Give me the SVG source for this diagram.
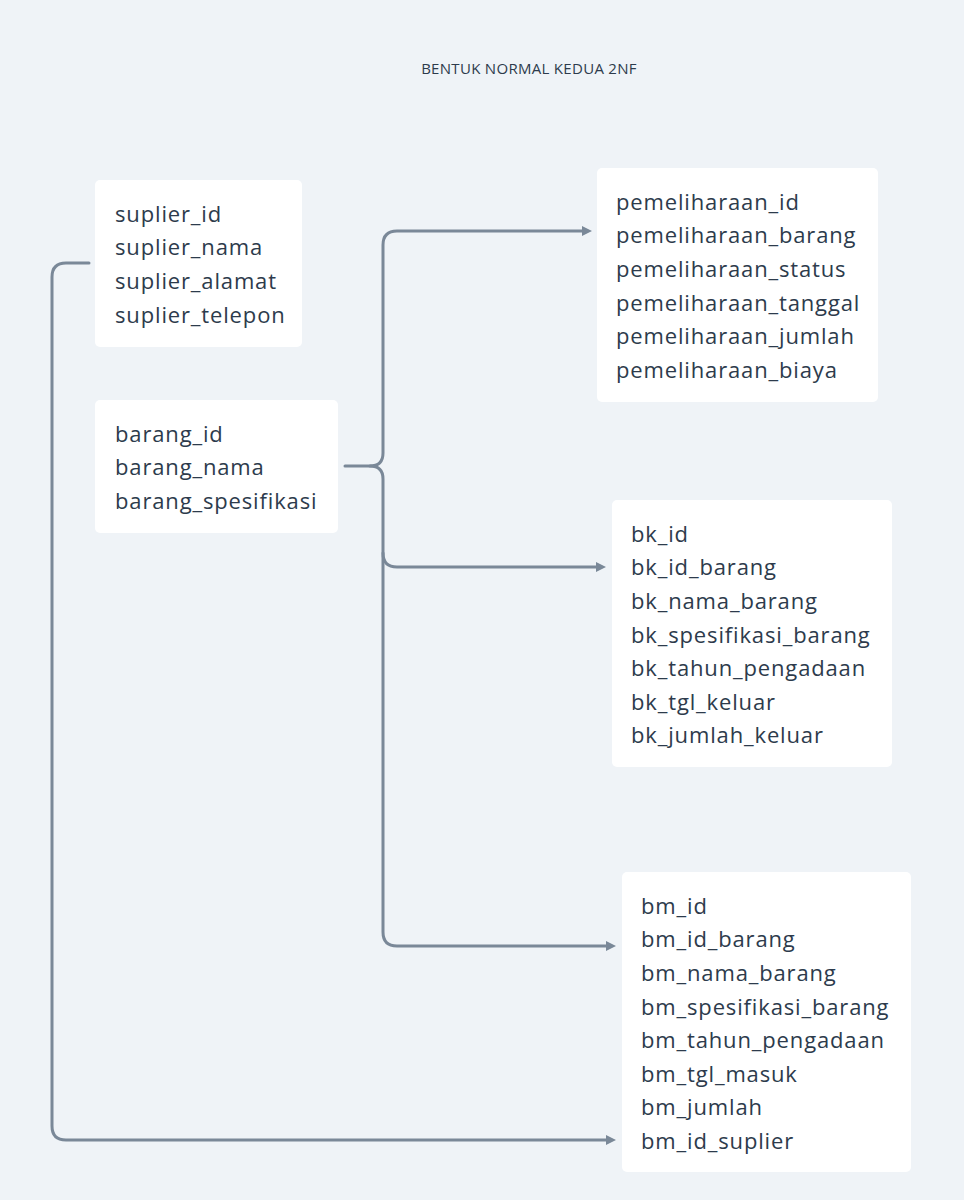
<svg xmlns="http://www.w3.org/2000/svg" width="964" height="1200" viewBox="0 0 964 1200">
<style>
.bg{fill:#eff3f7}
.box{fill:#ffffff}
.t{font-family:"Open Sans","Liberation Sans",sans-serif;font-size:22px;letter-spacing:0.85px;fill:#2d3b4c}
.title{font-family:"Open Sans","Liberation Sans",sans-serif;font-size:15px;letter-spacing:0.3px;fill:#2d3b4c}
.c{fill:none;stroke:#7a8898;stroke-width:3;stroke-linecap:round;stroke-linejoin:round}
</style>
<defs>
<marker id="ah" viewBox="0 0 10 10" refX="2" refY="5" markerWidth="10" markerHeight="10" markerUnits="userSpaceOnUse" orient="auto">
<path d="M0,0 L10,5 L0,10 Z" fill="#7a8898"/>
</marker>
</defs>
<rect class="bg" width="964" height="1200"/>
<text class="title" x="529" y="74" text-anchor="middle">BENTUK NORMAL KEDUA 2NF</text>
<g id="connectors">
<path class="c" d="M345,466 H370 Q383,466 383,453 V245 Q383,231 397,231 H584" marker-end="url(#ah)"/>
<path class="c" d="M370,466 Q383,466 383,479 V553 Q383,567 397,567 H598" marker-end="url(#ah)"/>
<path class="c" d="M383,553 V932 Q383,946 397,946 H608" marker-end="url(#ah)"/>
<path class="c" d="M89,263 H66 Q52,263 52,277 V1126 Q52,1140 66,1140 H608" marker-end="url(#ah)"/>
</g>
<g id="suplier">
<rect class="box" x="95" y="180" width="207" height="167" rx="5"/>
<text class="t" x="115" y="222">suplier_id</text>
<text class="t" x="115" y="255">suplier_nama</text>
<text class="t" x="115" y="289">suplier_alamat</text>
<text class="t" x="115" y="323">suplier_telepon</text>
</g>
<g id="barang">
<rect class="box" x="95" y="400" width="243" height="133" rx="5"/>
<text class="t" x="115" y="442">barang_id</text>
<text class="t" x="115" y="475">barang_nama</text>
<text class="t" x="115" y="509">barang_spesifikasi</text>
</g>
<g id="pemeliharaan">
<rect class="box" x="597" y="168" width="281" height="234" rx="5"/>
<text class="t" x="616" y="210">pemeliharaan_id</text>
<text class="t" x="616" y="243">pemeliharaan_barang</text>
<text class="t" x="616" y="277">pemeliharaan_status</text>
<text class="t" x="616" y="311">pemeliharaan_tanggal</text>
<text class="t" x="616" y="344">pemeliharaan_jumlah</text>
<text class="t" x="616" y="378">pemeliharaan_biaya</text>
</g>
<g id="barang_keluar">
<rect class="box" x="612" y="500" width="280" height="267" rx="5"/>
<text class="t" x="631" y="542">bk_id</text>
<text class="t" x="631" y="575">bk_id_barang</text>
<text class="t" x="631" y="609">bk_nama_barang</text>
<text class="t" x="631" y="643">bk_spesifikasi_barang</text>
<text class="t" x="631" y="676">bk_tahun_pengadaan</text>
<text class="t" x="631" y="710">bk_tgl_keluar</text>
<text class="t" x="631" y="743">bk_jumlah_keluar</text>
</g>
<g id="barang_masuk">
<rect class="box" x="622" y="872" width="289" height="300" rx="5"/>
<text class="t" x="641" y="914">bm_id</text>
<text class="t" x="641" y="947">bm_id_barang</text>
<text class="t" x="641" y="981">bm_nama_barang</text>
<text class="t" x="641" y="1015">bm_spesifikasi_barang</text>
<text class="t" x="641" y="1048">bm_tahun_pengadaan</text>
<text class="t" x="641" y="1082">bm_tgl_masuk</text>
<text class="t" x="641" y="1115">bm_jumlah</text>
<text class="t" x="641" y="1149">bm_id_suplier</text>
</g>
</svg>
